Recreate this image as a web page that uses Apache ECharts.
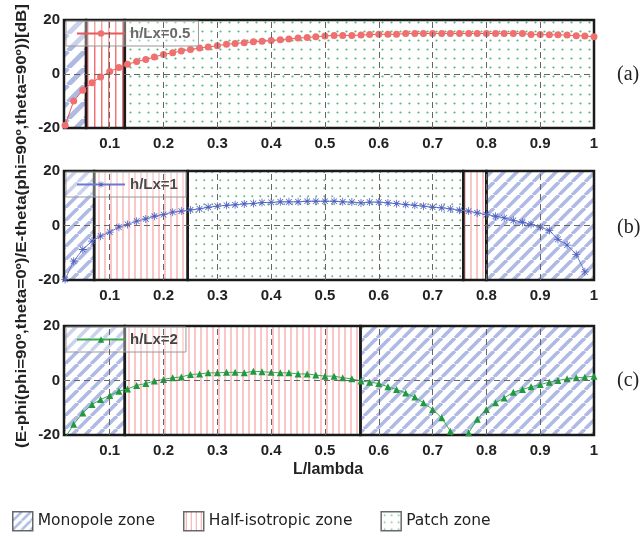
<!DOCTYPE html>
<html><head><meta charset="utf-8">
<script src="https://cdn.jsdelivr.net/npm/echarts@6/dist/echarts.min.js"></script>
<style>html,body{margin:0;padding:0;background:#fff}#c{width:644px;height:537px}</style>
</head><body><div id="c"></div>
<script>
// ---------- data ----------
const xTicks = [0.1,0.2,0.3,0.4,0.5,0.6,0.7,0.8,0.9,1];
const xTickLabels = ['0.1','0.2','0.3','0.4','0.5','0.6','0.7','0.8','0.9','1'];
const xGridVals = [0.1,0.2,0.3,0.4,0.5,0.6,0.7,0.8,0.9];
const yTicks = [-20,0,20];
const panelTags = ['(a)','(b)','(c)'];
const seriesNames = ['h/Lx=0.5','h/Lx=1','h/Lx=2'];
const zoneNames = ['Monopole zone','Half-isotropic zone','Patch zone'];

const xsA = [0.017,0.033,0.050,0.067,0.083,0.100,0.117,0.133,0.150,0.167,
 0.183,0.200,0.217,0.233,0.250,0.267,0.283,0.300,0.317,0.333,
 0.350,0.367,0.383,0.400,0.417,0.433,0.450,0.467,0.483,0.500,
 0.517,0.533,0.550,0.567,0.583,0.600,0.617,0.633,0.650,0.667,
 0.683,0.700,0.717,0.733,0.750,0.767,0.783,0.800,0.817,0.833,
 0.850,0.867,0.883,0.900,0.917,0.933,0.950,0.967,0.983,1.000];
const valsA = [-19,-10,-6,-3.2,-1.1,0.9,2.4,3.6,4.6,5.4,
 6.3,7.2,7.9,8.5,9.1,9.6,10.0,10.5,11.0,11.3,
 11.6,11.9,12.1,12.4,12.7,13.0,13.3,13.5,13.8,14.1,
 14.3,14.3,14.3,14.4,14.6,14.7,14.7,14.7,15.0,15.0,
 15.0,15.0,15.0,15.0,15.0,15.0,15.0,15.0,15.0,15.0,
 15.0,15.0,14.6,14.6,14.5,14.5,14.4,14.2,14.1,13.8];

const xsB = [0.017,0.033,0.050,0.067,0.083,0.100,0.117,0.133,0.150,0.167,
 0.183,0.200,0.217,0.233,0.250,0.267,0.283,0.300,0.317,0.333,
 0.350,0.367,0.383,0.400,0.417,0.433,0.450,0.467,0.483,0.500,
 0.517,0.533,0.550,0.567,0.583,0.600,0.617,0.633,0.650,0.667,
 0.683,0.700,0.717,0.733,0.750,0.767,0.783,0.800,0.817,0.833,
 0.850,0.867,0.883,0.900,0.917,0.933,0.950,0.967,0.983];
const valsB = [-19.8,-13.1,-8.8,-5.7,-3.9,-2.4,-0.6,0.4,1.6,2.4,
 3.4,4.0,4.9,5.3,5.7,6.1,6.7,7.1,7.4,7.6,
 7.9,8.1,8.4,8.5,8.7,8.7,8.7,8.9,8.9,8.9,
 8.9,8.7,8.6,8.3,8.6,8.6,8.3,8.0,7.7,7.4,
 7.1,6.7,6.5,6.1,5.6,5.3,4.6,4.0,3.4,2.8,
 1.9,1.2,0.4,-0.6,-1.8,-5.1,-7.2,-10.6,-17.0];

const xsC = [0.017,0.033,0.050,0.067,0.083,0.100,0.117,0.133,0.150,0.167,
 0.183,0.200,0.217,0.233,0.250,0.267,0.283,0.300,0.317,0.333,
 0.350,0.367,0.383,0.400,0.417,0.433,0.450,0.467,0.483,0.500,
 0.517,0.533,0.550,0.567,0.583,0.600,0.617,0.633,0.650,0.667,
 0.683,0.700,0.717,0.733,0.750,0.767,0.783,0.800,0.817,0.833,
 0.850,0.867,0.883,0.900,0.917,0.933,0.950,0.967,0.983,1.000];
const valsC = [-21,-16.1,-11.9,-8.8,-7.0,-5.5,-3.9,-3.1,-1.8,-1.1,
 -0.2,0.4,1.0,1.3,2.2,2.4,2.8,2.8,3.0,3.0,
 2.8,3.4,3.2,3.0,2.8,2.8,2.4,2.4,2.0,1.6,
 1.6,1.0,0.6,-0.2,-0.6,-1.1,-2.3,-3.3,-4.6,-6.1,
 -8.2,-10.6,-13.7,-18.6,-30,-19.2,-14.2,-10.6,-8.2,-6.4,
 -4.3,-3.3,-2.3,-1.5,-0.6,0,0.6,1.0,1.2,1.6];

// zones: [kind, from, to]
const zonesA = [['mono',0.015,0.056],['half',0.056,0.128],['patch',0.128,1]];
const zonesB = [['mono',0.015,0.071],['half',0.071,0.245],['patch',0.245,0.757],['half',0.757,0.8],['mono',0.8,1]];
const zonesC = [['mono',0.015,0.128],['half',0.128,0.566],['mono',0.566,1]];

// ---------- patterns ----------
function mk(w,h,draw){const c=document.createElement('canvas');c.width=w;c.height=h;const g=c.getContext('2d');draw(g,w,h);return {image:c,repeat:'repeat'};}
function monoPat(s,lw,col){return mk(s,s,(g)=>{g.strokeStyle=col;g.lineWidth=lw;for(const o of [-s,0,s]){g.beginPath();g.moveTo(o,s);g.lineTo(o+s,0);g.stroke();}});}
function halfPat(w,lw,col){return mk(w,4,(g,W,H)=>{g.fillStyle=col;g.fillRect(W/2-lw/2,0,lw,H);});}
function patchPat(s,r,col){return mk(s,s,(g)=>{g.fillStyle=col;g.beginPath();g.arc(s/2,s/2,r,0,Math.PI*2);g.fill();});}
const patA = {mono:monoPat(17,5,'rgba(120,140,205,0.6)'), half:halfPat(7.5,1.4,'rgba(235,70,70,0.8)'), patch:patchPat(9,1.1,'#59b87a')};
const patBC = {mono:monoPat(13,3.6,'rgba(110,130,205,0.55)'), half:halfPat(6,1.3,'rgba(240,110,110,0.6)'), patch:patchPat(8.5,1.0,'#5cba7c')};
const legendPats = [monoPat(9,2.5,'rgba(110,130,205,0.7)'), halfPat(5,1,'rgba(235,100,100,0.7)'), patchPat(7,0.9,'#5cba7c')];

const star = 'path://M9,0 L11,0 L11,20 L9,20 Z M0,9 L20,9 L20,11 L0,11 Z M2.2,3.6 L3.6,2.2 L17.8,16.4 L16.4,17.8 Z M16.4,2.2 L17.8,3.6 L3.6,17.8 L2.2,16.4 Z';

const panels = [
  {top:20, height:108, xs:xsA, ys:valsA, zones:zonesA, pat:patA, color:'#f07070', line:'#e85858', symbol:'circle', size:7, txt:'#6a6a6a', tagY:75},
  {top:171, height:109, xs:xsB, ys:valsB, zones:zonesB, pat:patBC, color:'#5060c0', line:'#6a7ad0', symbol:star, size:8, txt:'#4a4a4a', tagY:228},
  {top:326, height:109, xs:xsC, ys:valsC, zones:zonesC, pat:patBC, color:'#1f9a3f', line:'#3aaa55', symbol:'triangle', size:7, txt:'#444', tagY:381}
];

const labelFont = {fontFamily:'Liberation Sans', fontWeight:'bold', fontSize:15, color:'#222'};

const option = {
  animation:false,
  backgroundColor:'#fff',
  grid: panels.map(p=>({left:64, top:p.top, width:530, height:p.height, show:true, borderColor:'#1a1a1a', borderWidth:2, backgroundColor:'#fff'})),
  xAxis: panels.map((p,i)=>({gridIndex:i, type:'value', min:0.015, max:1,
    axisLine:{show:false}, axisTick:{show:false}, splitLine:{show:false},
    axisLabel:Object.assign({customValues:xTicks, margin:8, formatter:(v)=>{const k=xTicks.findIndex(t=>Math.abs(t-v)<1e-6);return k>=0?xTickLabels[k]:'';}}, labelFont)})),
  yAxis: panels.map((p,i)=>({gridIndex:i, type:'value', min:yTicks[0], max:yTicks[2], interval:20,
    axisLine:{show:false}, axisTick:{show:false}, splitLine:{show:false},
    axisLabel:Object.assign({margin:4}, labelFont)})),
  legend: panels.map((p,i)=>({data:[seriesNames[i]], left:66, top:p.top+1, orient:'horizontal',
      itemWidth:48, itemHeight:8, padding:[5,8,5,10], borderColor:'#999', borderWidth:1, borderRadius:0,
      backgroundColor:'rgba(255,255,255,0.35)', selectedMode:false,
      textStyle:{fontFamily:'Liberation Sans', fontWeight:'bold', fontSize:15, color:p.txt}}))
    .concat([{data: zoneNames.map((n,j)=>({name:n, icon:'rect', itemStyle:{color:legendPats[j], borderColor:'#444', borderWidth:1.5}})),
      left:12, top:511, itemWidth:20, itemHeight:19, itemGap:28, selectedMode:false, padding:0,
      textStyle:{fontFamily:'DejaVu Sans', fontSize:15.5, color:'#222'}}]),
  graphic: [
    {type:'text', x:22, y:226, rotation:Math.PI/2, scaleX:1.13, style:{text:'(E-phi(phi=90º,theta=0º)/E-theta(phi=90º,theta=90º))[dB]', font:'bold 15px "Liberation Sans"', fill:'#222', align:'center', verticalAlign:'middle'}},
    {type:'text', x:328, y:470, style:{text:'L/lambda', font:'bold 16px "Liberation Sans"', fill:'#222', align:'center', verticalAlign:'middle'}}
  ].concat(panels.map((p,i)=>({type:'text', x:617, y:p.tagY, style:{text:panelTags[i], font:'20px "Liberation Serif"', fill:'#222', verticalAlign:'middle'}}))),
  series: []
};

panels.forEach((p,i)=>{
  option.series.push({type:'line', name:'zones'+i, xAxisIndex:i, yAxisIndex:i, data:[], z:1, silent:true,
    markArea:{silent:true, label:{show:false},
      data:p.zones.map(z=>[{xAxis:z[1], yAxis:yTicks[0], itemStyle:{color:p.pat[z[0]], borderColor:'#1a1a1a', borderWidth:2.5}},{xAxis:z[2], yAxis:yTicks[2]}])}});
  option.series.push({type:'line', name:'grid'+i, xAxisIndex:i, yAxisIndex:i, data:[], z:2, silent:true,
    markLine:{silent:true, symbol:['none','none'], label:{show:false}, animation:false,
      lineStyle:{type:[6,4], color:'#666', width:1},
      data: xGridVals.map(v=>({xAxis:v})).concat([{yAxis:0}])}});
  option.series.push({type:'line', name:seriesNames[i], xAxisIndex:i, yAxisIndex:i, z:3,
    data:p.xs.map((x,k)=>[x,p.ys[k]]), symbol:p.symbol, symbolSize:p.size, showSymbol:true,
    itemStyle:{color:p.color}, lineStyle:{color:p.line, width:1}, clip:true});
});
zoneNames.forEach((n,j)=>{
  option.series.push({type:'scatter', name:n, xAxisIndex:2, yAxisIndex:2, data:[], itemStyle:{color:legendPats[j]}});
});

const chart = echarts.init(document.getElementById('c'), null, {renderer:'canvas'});
chart.setOption(option);
</script></body></html>
